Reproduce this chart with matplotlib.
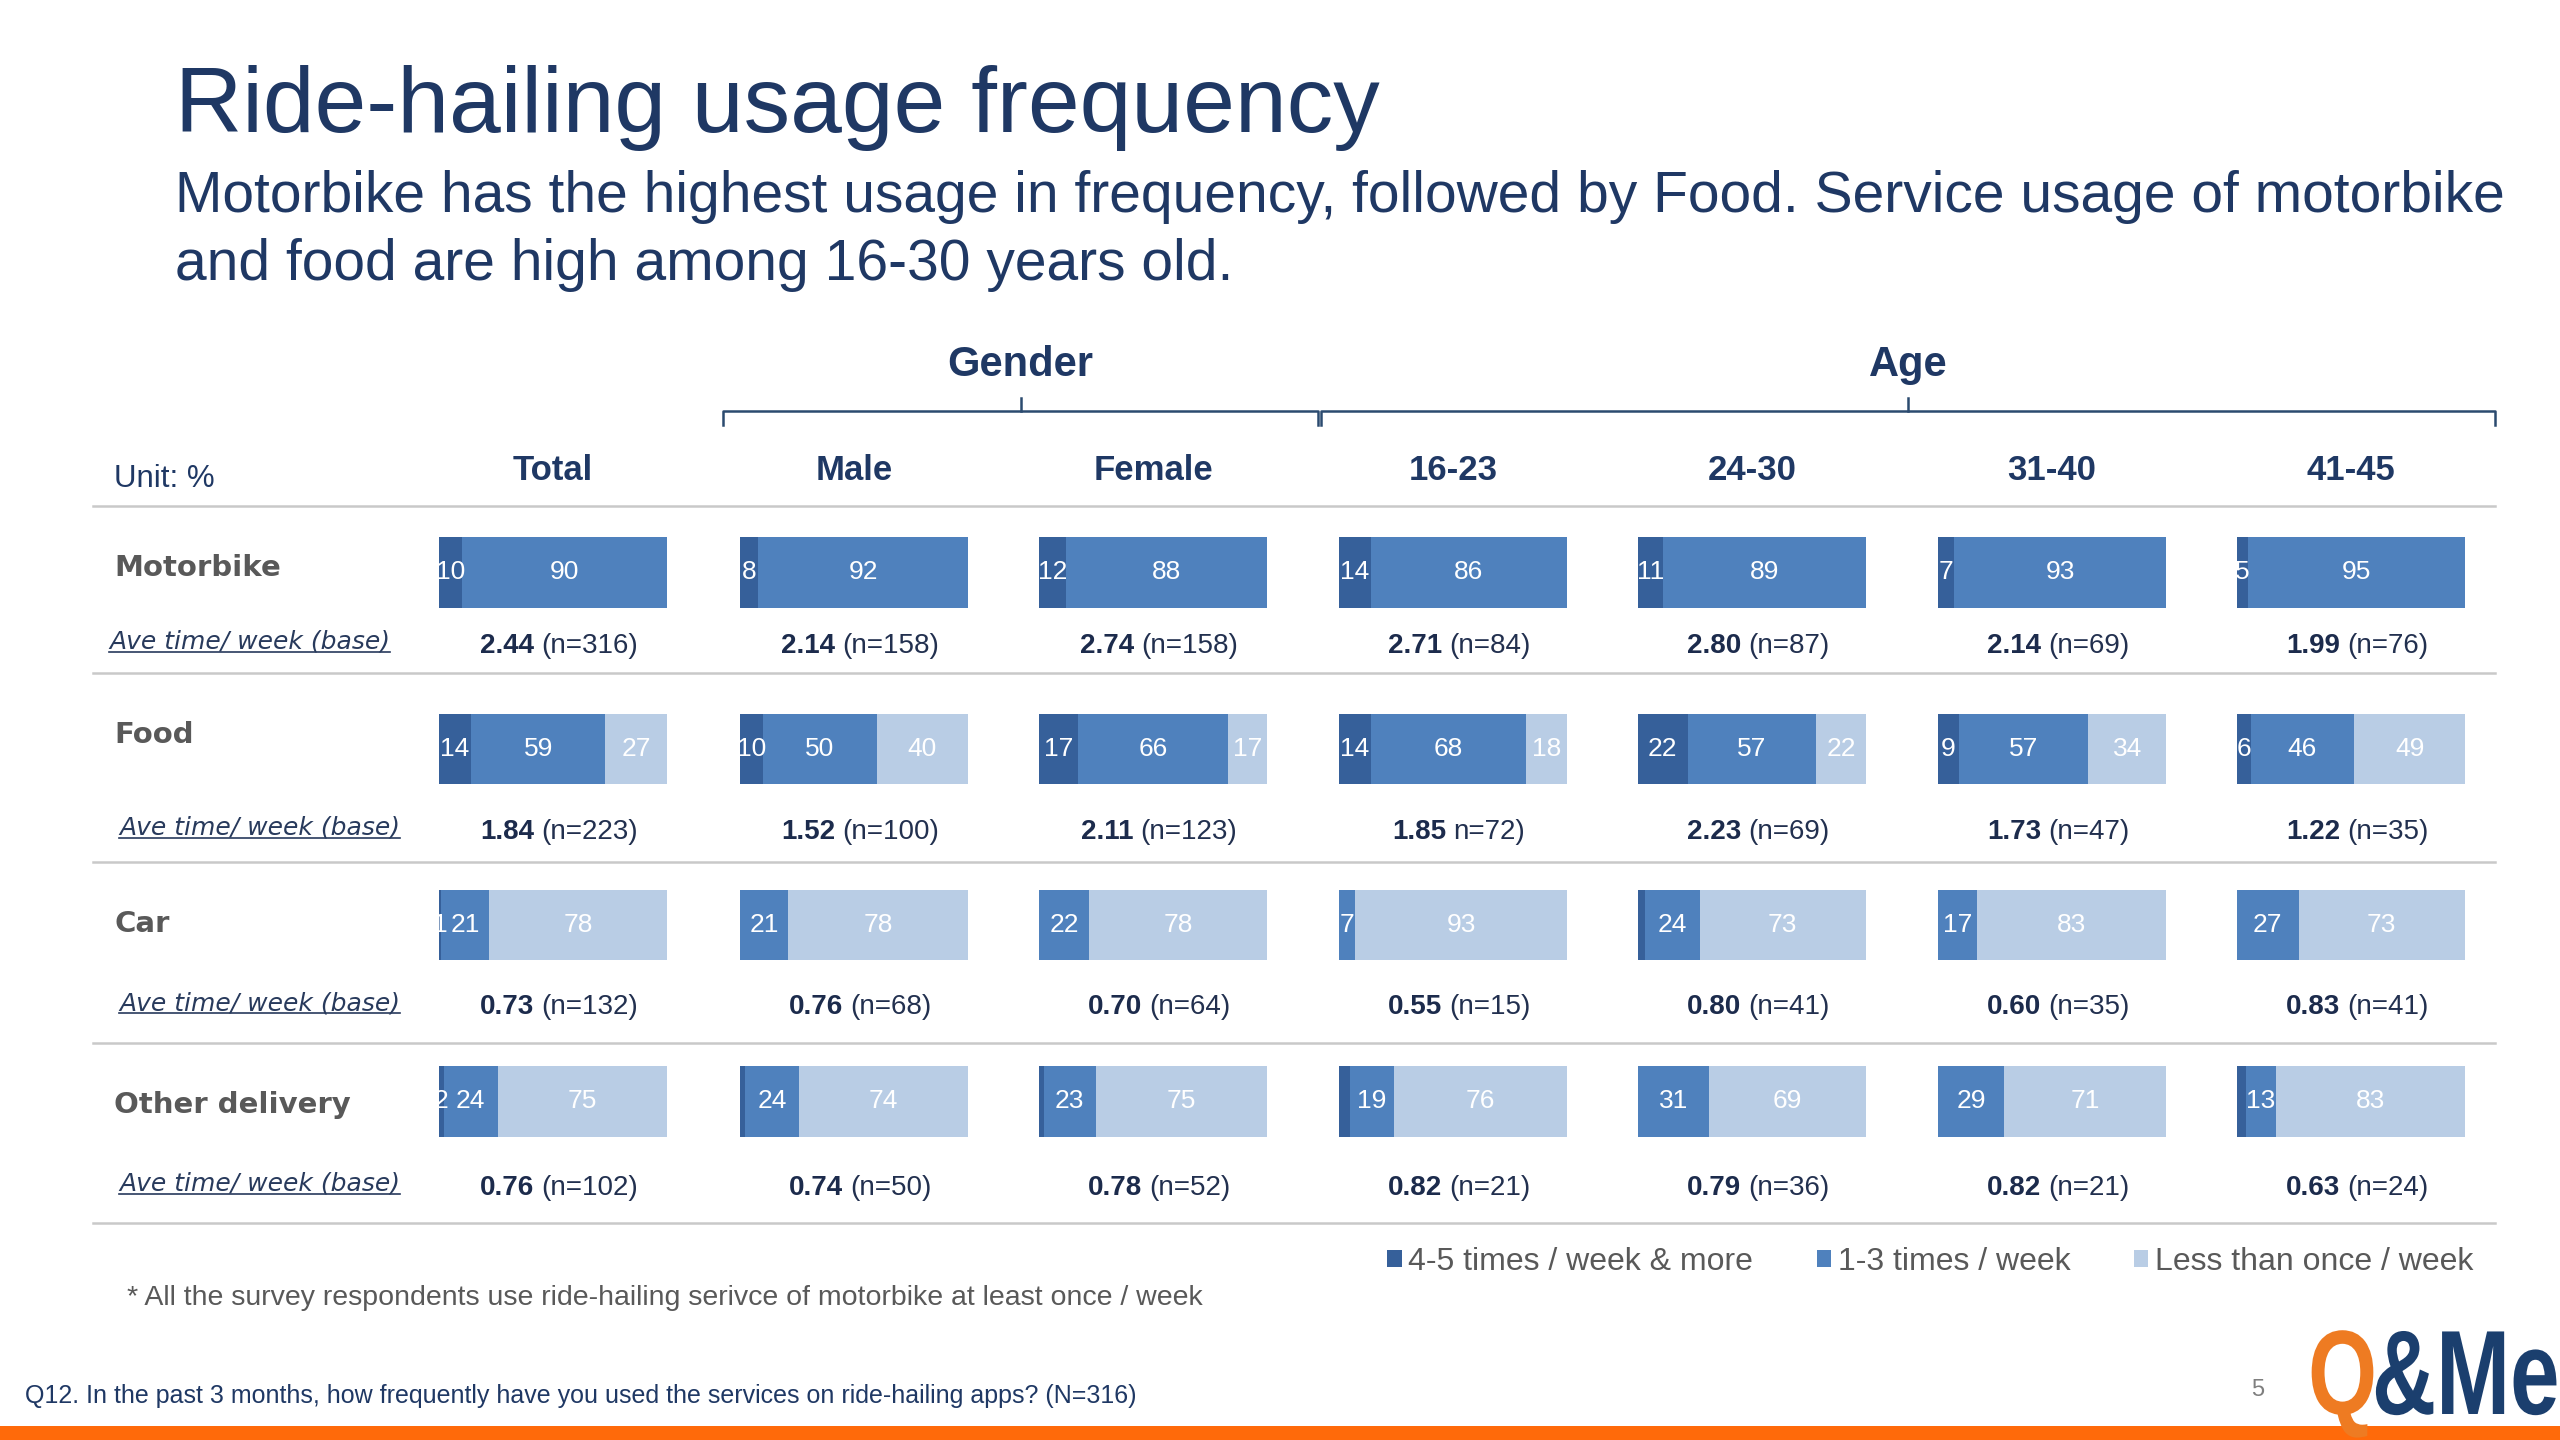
import matplotlib
matplotlib.use("Agg")
import matplotlib.pyplot as plt
import numpy as np
from matplotlib.patches import Rectangle, PathPatch
from matplotlib.lines import Line2D
from matplotlib.textpath import TextPath
from matplotlib.font_manager import FontProperties
from matplotlib.transforms import Affine2D

# ---------------- data ----------------
columns = ["Total", "Male", "Female", "16-23", "24-30", "31-40", "41-45"]
services = ["Motorbike", "Food", "Car", "Other delivery"]
series = ["4-5 times / week & more", "1-3 times / week", "Less than once / week"]

motorbike_high = [10, 8, 12, 14, 11, 7, 5]
motorbike_mid = [90, 92, 88, 86, 89, 93, 95]
motorbike_low = [0, 0, 0, 0, 0, 0, 0]

food_high = [14, 10, 17, 14, 22, 9, 6]
food_mid = [59, 50, 66, 68, 57, 57, 46]
food_low = [27, 40, 17, 18, 22, 34, 49]

car_high = [1, 0, 0, 0, 3, 0, 0]
car_mid = [21, 21, 22, 7, 24, 17, 27]
car_low = [78, 78, 78, 93, 73, 83, 73]

other_high = [2, 2, 2, 5, 0, 0, 4]
other_mid = [24, 24, 23, 19, 31, 29, 13]
other_low = [75, 74, 75, 76, 69, 71, 83]

# which "4-5 times" values carry a data label on the slide
motorbike_high_labelled = [True, True, True, True, True, True, True]
food_high_labelled = [True, True, True, True, True, True, True]
car_high_labelled = [True, False, False, False, False, False, False]
other_high_labelled = [True, False, False, False, False, False, False]

motorbike_avg = [2.44, 2.14, 2.74, 2.71, 2.80, 2.14, 1.99]
motorbike_n = [316, 158, 158, 84, 87, 69, 76]
food_avg = [1.84, 1.52, 2.11, 1.85, 2.23, 1.73, 1.22]
food_n = [223, 100, 123, 72, 69, 47, 35]
car_avg = [0.73, 0.76, 0.70, 0.55, 0.80, 0.60, 0.83]
car_n = [132, 68, 64, 15, 41, 35, 41]
other_avg = [0.76, 0.74, 0.78, 0.82, 0.79, 0.82, 0.63]
other_n = [102, 50, 52, 21, 36, 21, 24]

high = [motorbike_high, food_high, car_high, other_high]
mid = [motorbike_mid, food_mid, car_mid, other_mid]
low = [motorbike_low, food_low, car_low, other_low]
high_lab = [motorbike_high_labelled, food_high_labelled, car_high_labelled, other_high_labelled]
avgs = [motorbike_avg, food_avg, car_avg, other_avg]
bases = [motorbike_n, food_n, car_n, other_n]

# ---------------- style ----------------
W, H = 2560, 1440
NAVY = "#1F3864"
TXT_NAVY = "#1C2B4C"
GRAY = "#595959"
SEG_COLORS = ["#36609A", "#4F81BD", "#B9CDE5"]
SANS = ["Liberation Sans", "DejaVu Sans"]
VERD = ["DejaVu Sans"]

fig = plt.figure(figsize=(W / 100, H / 100), dpi=100)
fig.patch.set_facecolor("white")
ax0 = fig.add_axes([0, 0, 1, 1])
ax0.set_xlim(0, W)
ax0.set_ylim(H, 0)
ax0.axis("off")

# titles
ax0.text(175, 108, "Ride-hailing usage frequency", fontsize=67, color=NAVY,
         family=SANS, va="center", ha="left")
ax0.text(175, 197, "Motorbike has the highest usage in frequency, followed by Food. Service usage of motorbike",
         fontsize=41, color=NAVY, family=SANS, va="center", ha="left")
ax0.text(175, 265, "and food are high among 16-30 years old.",
         fontsize=41, color=NAVY, family=SANS, va="center", ha="left")

# group headers + brackets
def bracket(x0, x1, y, label):
    xc = (x0 + x1) / 2
    ax0.add_line(Line2D([x0, x0, x1, x1], [y + 14, y, y, y + 14], color="#2B4A6F", lw=1.8))
    ax0.add_line(Line2D([xc, xc], [y, y - 13], color="#2B4A6F", lw=1.8))
    ax0.text(xc, y - 46, label, fontsize=30, fontweight="bold", color=NAVY,
             family=SANS, ha="center", va="center")

bracket(723, 1318, 411, "Gender")
bracket(1321, 2495, 411, "Age")

ax0.text(114, 479, "Unit: %", fontsize=22.5, color=NAVY, family=SANS, ha="left", va="center")

col_left = [439, 740, 1039, 1339, 1638, 1938, 2237]
bar_w = 228
for c, col in enumerate(columns):
    ax0.text(col_left[c] + bar_w / 2, 470, col, fontsize=25, fontweight="bold",
             color=NAVY, family=SANS, ha="center", va="center")

# separators
for y in [506, 673, 862, 1043, 1223]:
    ax0.add_line(Line2D([93, 2495], [y, y], color="#C9C9C9", lw=1.8))

# row labels
row_label_y = [568, 735, 924, 1105]
base_label_y = [642, 828, 1003, 1184]
base_label_x = [109, 119, 119, 119]
ave_y = [646, 832, 1007, 1188]
base_texts = []
for r, svc in enumerate(services):
    ax0.text(114, row_label_y[r], svc, fontsize=21, fontweight="bold", color=GRAY,
             family=VERD, ha="left", va="center")
    t = ax0.text(base_label_x[r], base_label_y[r], "Ave time/ week (base)", fontsize=18,
                 style="italic", color="#283A5C", family=VERD, ha="left", va="center")
    base_texts.append(t)

# bars
rows = np.arange(len(services))
top_px, bot_px = 484.3, 1189.6
legend_handles = None
for c, col in enumerate(columns):
    ax = fig.add_axes([col_left[c] / W, 1 - bot_px / H, bar_w / W, (bot_px - top_px) / H])
    ax.set_xlim(0, 100)
    ax.set_ylim(3.5, -0.5)
    ax.axis("off")
    ax.patch.set_alpha(0)
    vals = np.array([[high[r][c], mid[r][c], low[r][c]] for r in rows], dtype=float)
    pct = vals / vals.sum(axis=1, keepdims=True) * 100
    left = np.zeros(len(rows))
    handles = []
    for k in range(3):
        cont = ax.barh(rows, pct[:, k], left=left, height=0.4, color=SEG_COLORS[k],
                       linewidth=0, label=series[k])
        labels = []
        for r in rows:
            v = int(vals[r, k])
            show = v > 0 and (k > 0 or high_lab[r][c])
            labels.append(str(v) if show else "")
        ax.bar_label(cont, labels=labels, label_type="center", color="white",
                     fontsize=19, family=SANS)
        left = left + pct[:, k]
        handles.append(cont)
    if legend_handles is None:
        legend_handles = handles

# average texts (bold value + normal base)
fig.canvas.draw()
renderer = fig.canvas.get_renderer()
for r in rows:
    for c in range(len(columns)):
        cx = col_left[c] + bar_w / 2 + 6
        bold = f"{avgs[r][c]:.2f}"
        norm = f"(n={bases[r][c]})"
        if r == 1 and c == 3:
            norm = f"n={bases[r][c]})"
        t1 = ax0.text(0, ave_y[r], bold, fontsize=20, fontweight="bold", color=TXT_NAVY,
                      family=SANS, ha="right", va="center")
        t2 = ax0.text(0, ave_y[r], norm, fontsize=20, color="#22304F",
                      family=SANS, ha="left", va="center")
        w1 = t1.get_window_extent(renderer).width
        w2 = t2.get_window_extent(renderer).width
        gap = 7
        xs = cx - (w1 + gap + w2) / 2 + w1
        t1.set_x(xs)
        t2.set_x(xs + gap)

# underline
inv = ax0.transData.inverted()
for t in base_texts:
    bb = t.get_window_extent(renderer)
    (x0, y0), (x1, y1) = inv.transform([(bb.x0, bb.y0), (bb.x1, bb.y1)])
    ax0.add_line(Line2D([x0, x1], [y0 - 2, y0 - 2], color="#283A5C", lw=1.2))

# legend
fig.legend(legend_handles, series, loc="center right",
           bbox_to_anchor=(2502 / W, 1 - 1262 / H), ncol=3, frameon=False,
           handlelength=0.45, handleheight=0.45, handletextpad=0.2, columnspacing=2.0,
           prop=FontProperties(family=SANS, size=23), labelcolor=GRAY)

# footnotes
ax0.text(127, 1298, "* All the survey respondents use ride-hailing serivce of motorbike at least once / week",
         fontsize=20.5, color=GRAY, family=SANS, ha="left", va="center")
ax0.text(25, 1396, "Q12. In the past 3 months, how frequently have you used the services on ride-hailing apps? (N=316)",
         fontsize=18, color=NAVY, family=SANS, ha="left", va="center")
ax0.text(2258, 1390, "5", fontsize=17, color="#7F7F7F", family=SANS, ha="center", va="center")

# bottom orange strip
ax0.add_patch(Rectangle((0, 1426), W, 14, color="#FF6A0A", lw=0))

# logo
fp = FontProperties(family="Liberation Sans", weight="bold")
size = 120
q = TextPath((0, 0), "Q", prop=fp, size=size)
me = TextPath((0, 0), "&Me", prop=fp, size=size)
sx = 0.74
ax0.add_patch(PathPatch(Affine2D().scale(sx, -1).translate(2308, 1414).transform_path(q),
                        color="#EE7B22", lw=0))
ax0.add_patch(PathPatch(Affine2D().scale(sx, -1).translate(2372, 1414).transform_path(me),
                        color="#1B3F6E", lw=0))

fig.savefig("out.png", dpi=100, facecolor="white")
